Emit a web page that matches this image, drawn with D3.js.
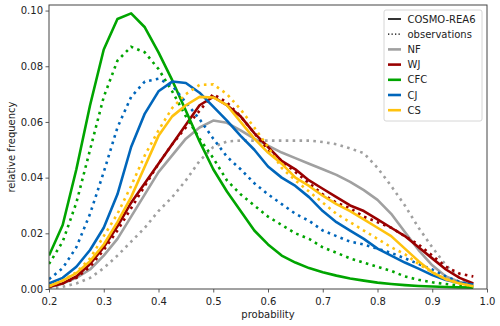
<!DOCTYPE html>
<html>
<head>
<meta charset="utf-8">
<script src="https://cdn.jsdelivr.net/npm/d3@7"></script>
<style>
  body { margin: 0; background: #fff; }
  svg { display: block; font-family: "DejaVu Sans", sans-serif; }
</style>
</head>
<body>
<svg id="chart"></svg>
<script>
// probability bins (0.2 .. 0.975, step 0.025)
const probs = [0.2, 0.225, 0.25, 0.275, 0.3, 0.325, 0.35, 0.375, 0.4, 0.425, 0.45, 0.475,
  0.5, 0.525, 0.55, 0.575, 0.6, 0.625, 0.65, 0.675, 0.7, 0.725, 0.75, 0.775,
  0.8, 0.825, 0.85, 0.875, 0.9, 0.925, 0.95, 0.975];

const classes = ["NF", "WJ", "CFC", "CJ", "CS"];
const colors = ["#a0a0a0", "#990000", "#00a500", "#0066bb", "#ffc20e"];

// COSMO-REA6 (solid)
const nfModel = [0.0005, 0.002, 0.004, 0.007, 0.012, 0.018, 0.026, 0.034, 0.042, 0.048, 0.054, 0.058,
  0.0605, 0.0597, 0.057, 0.054, 0.0515, 0.049, 0.047, 0.045, 0.043, 0.041, 0.0385, 0.0355,
  0.032, 0.027, 0.0205, 0.014, 0.0085, 0.0045, 0.0025, 0.0015];
const wjModel = [0.0008, 0.002, 0.0045, 0.009, 0.015, 0.0225, 0.031, 0.038, 0.045, 0.052, 0.059, 0.066,
  0.069, 0.066, 0.062, 0.056, 0.051, 0.046, 0.043, 0.039, 0.036, 0.033, 0.030, 0.028,
  0.025, 0.022, 0.019, 0.015, 0.011, 0.007, 0.004, 0.002];
const cfcModel = [0.012, 0.023, 0.043, 0.066, 0.086, 0.097, 0.099, 0.094, 0.085, 0.075, 0.064, 0.053,
  0.043, 0.035, 0.028, 0.021, 0.016, 0.012, 0.0095, 0.0075, 0.006, 0.0048, 0.0038, 0.003,
  0.0023, 0.0018, 0.0014, 0.0011, 0.0009, 0.0007, 0.0006, 0.0005];
const cjModel = [0.002, 0.004, 0.008, 0.014, 0.022, 0.034, 0.051, 0.063, 0.071, 0.0745, 0.074, 0.0705,
  0.0655, 0.0605, 0.055, 0.050, 0.044, 0.040, 0.037, 0.033, 0.028, 0.024, 0.021, 0.018,
  0.0145, 0.012, 0.0095, 0.0073, 0.005, 0.0032, 0.0022, 0.0015];
const csModel = [0.001, 0.003, 0.0057, 0.010, 0.016, 0.024, 0.033, 0.044, 0.055, 0.062, 0.066, 0.069,
  0.0688, 0.066, 0.060, 0.054, 0.049, 0.045, 0.040, 0.037, 0.0335, 0.0305, 0.028, 0.025,
  0.022, 0.019, 0.0145, 0.010, 0.006, 0.0035, 0.002, 0.001];

// observations (dotted)
const nfObs = [0.0002, 0.0008, 0.002, 0.004, 0.0075, 0.012, 0.017, 0.022, 0.028, 0.033, 0.039, 0.046,
  0.051, 0.053, 0.0533, 0.0533, 0.0533, 0.0533, 0.0533, 0.0533, 0.0528, 0.052, 0.0505, 0.0488,
  0.0435, 0.037, 0.030, 0.022, 0.015, 0.0085, 0.004, 0.001];
const wjObs = [0.0008, 0.002, 0.004, 0.008, 0.014, 0.021, 0.029, 0.037, 0.045, 0.052, 0.058, 0.064,
  0.070, 0.067, 0.062, 0.056, 0.050, 0.046, 0.042, 0.038, 0.034, 0.031, 0.029, 0.026,
  0.024, 0.022, 0.019, 0.016, 0.012, 0.008, 0.0055, 0.0045];
const cfcObs = [0.009, 0.017, 0.031, 0.050, 0.069, 0.082, 0.087, 0.085, 0.079, 0.071, 0.062, 0.054,
  0.047, 0.039, 0.034, 0.030, 0.026, 0.023, 0.020, 0.018, 0.015, 0.013, 0.011, 0.0095,
  0.008, 0.0065, 0.0045, 0.0033, 0.0024, 0.0018, 0.0012, 0.0008];
const cjObs = [0.0035, 0.0075, 0.015, 0.027, 0.042, 0.058, 0.069, 0.0745, 0.0755, 0.073, 0.067, 0.061,
  0.054, 0.0475, 0.043, 0.038, 0.034, 0.0305, 0.027, 0.0245, 0.021, 0.019, 0.017, 0.016,
  0.0145, 0.013, 0.011, 0.009, 0.007, 0.0045, 0.0025, 0.0015];
const csObs = [0.001, 0.003, 0.006, 0.011, 0.019, 0.027, 0.037, 0.048, 0.057, 0.065, 0.070, 0.0733,
  0.0735, 0.070, 0.0645, 0.058, 0.051, 0.0435, 0.039, 0.035, 0.031, 0.027, 0.024, 0.021,
  0.018, 0.015, 0.0125, 0.009, 0.006, 0.0035, 0.002, 0.001];

const modelSeries = [nfModel, wjModel, cfcModel, cjModel, csModel];
const obsSeries = [nfObs, wjObs, cfcObs, cjObs, csObs];

const xTicks = [0.2, 0.3, 0.4, 0.5, 0.6, 0.7, 0.8, 0.9, 1.0];
const yTicks = [0, 0.02, 0.04, 0.06, 0.08, 0.10];

const width = 500, height = 326;
const margin = { top: 5, right: 13, bottom: 37, left: 49 };

const svg = d3.select("#chart").attr("width", width).attr("height", height);

const x = d3.scaleLinear().domain([0.2, 1.0]).range([margin.left, width - margin.right]);
const y = d3.scaleLinear().domain([0, 0.102]).range([height - margin.bottom, margin.top]);

// clip so lines stay within the axes
svg.append("clipPath").attr("id", "clip")
  .append("rect")
  .attr("x", margin.left).attr("y", margin.top)
  .attr("width", width - margin.left - margin.right)
  .attr("height", height - margin.top - margin.bottom);

const line = d3.line()
  .x((d) => x(d[0]))
  .y((d) => y(d[1]));

const plot = svg.append("g").attr("clip-path", "url(#clip)");

classes.forEach((c, i) => {
  plot.append("path")
    .datum(probs.map((p, j) => [p, modelSeries[i][j]]))
    .attr("d", line)
    .attr("fill", "none")
    .attr("stroke", colors[i])
    .attr("stroke-width", 2.6)
    .attr("stroke-linejoin", "round");

  plot.append("path")
    .datum(probs.map((p, j) => [p, obsSeries[i][j]]))
    .attr("d", line)
    .attr("fill", "none")
    .attr("stroke", colors[i])
    .attr("stroke-width", 2.6)
    .attr("stroke-dasharray", "2.6 4.3");
});

// axes
const xAxis = svg.append("g")
  .attr("transform", `translate(0, ${height - margin.bottom})`)
  .call(d3.axisBottom(x).tickValues(xTicks).tickFormat(d3.format(".1f")).tickSizeOuter(0).tickSize(3.5));

const yAxis = svg.append("g")
  .attr("transform", `translate(${margin.left}, 0)`)
  .call(d3.axisLeft(y).tickValues(yTicks).tickFormat(d3.format(".2f")).tickSizeOuter(0).tickSize(3.5));

[xAxis, yAxis].forEach((a) => {
  a.select(".domain").remove();
  a.selectAll(".tick line").attr("stroke", "#333").attr("stroke-width", 0.8);
  a.selectAll(".tick text")
    .attr("fill", "#222")
    .attr("font-size", 10)
    .attr("font-family", "DejaVu Sans");
});
xAxis.selectAll(".tick text").attr("dy", "0.71em").attr("y", 9);
yAxis.selectAll(".tick text").attr("x", -6);

// frame
svg.append("rect")
  .attr("x", margin.left).attr("y", margin.top)
  .attr("width", width - margin.left - margin.right)
  .attr("height", height - margin.top - margin.bottom)
  .attr("fill", "none")
  .attr("stroke", "#444")
  .attr("stroke-width", 1);

// axis labels
svg.append("text")
  .attr("x", (margin.left + width - margin.right) / 2)
  .attr("y", 318)
  .attr("text-anchor", "middle")
  .attr("font-size", 10)
  .attr("fill", "#222")
  .text("probability");

svg.append("text")
  .attr("transform", `translate(15, ${(margin.top + height - margin.bottom) / 2}) rotate(-90)`)
  .attr("text-anchor", "middle")
  .attr("font-size", 10)
  .attr("fill", "#222")
  .text("relative frequency");

// legend
const legend = svg.append("g");
legend.append("rect")
  .attr("x", 384).attr("y", 10)
  .attr("width", 98).attr("height", 111)
  .attr("rx", 2)
  .attr("fill", "#fff").attr("fill-opacity", 0.85)
  .attr("stroke", "#ccc").attr("stroke-width", 0.8);

const legendItems = [
  { label: "COSMO-REA6", color: "#000", dash: null, width: 1.6 },
  { label: "observations", color: "#000", dash: "1.3 2.2", width: 1.3 },
].concat(classes.map((c, i) => ({ label: c, color: colors[i], dash: null, width: 2.6 })));

legendItems.forEach((d, i) => {
  const yy = 19 + i * 15.2;
  legend.append("line")
    .attr("x1", 388).attr("x2", 401)
    .attr("y1", yy).attr("y2", yy)
    .attr("stroke", d.color)
    .attr("stroke-width", d.width)
    .attr("stroke-dasharray", d.dash);
  legend.append("text")
    .attr("x", 407.5).attr("y", yy)
    .attr("dy", "0.35em")
    .attr("font-size", 10)
    .attr("fill", "#222")
    .text(d.label);
});
</script>
</body>
</html>
